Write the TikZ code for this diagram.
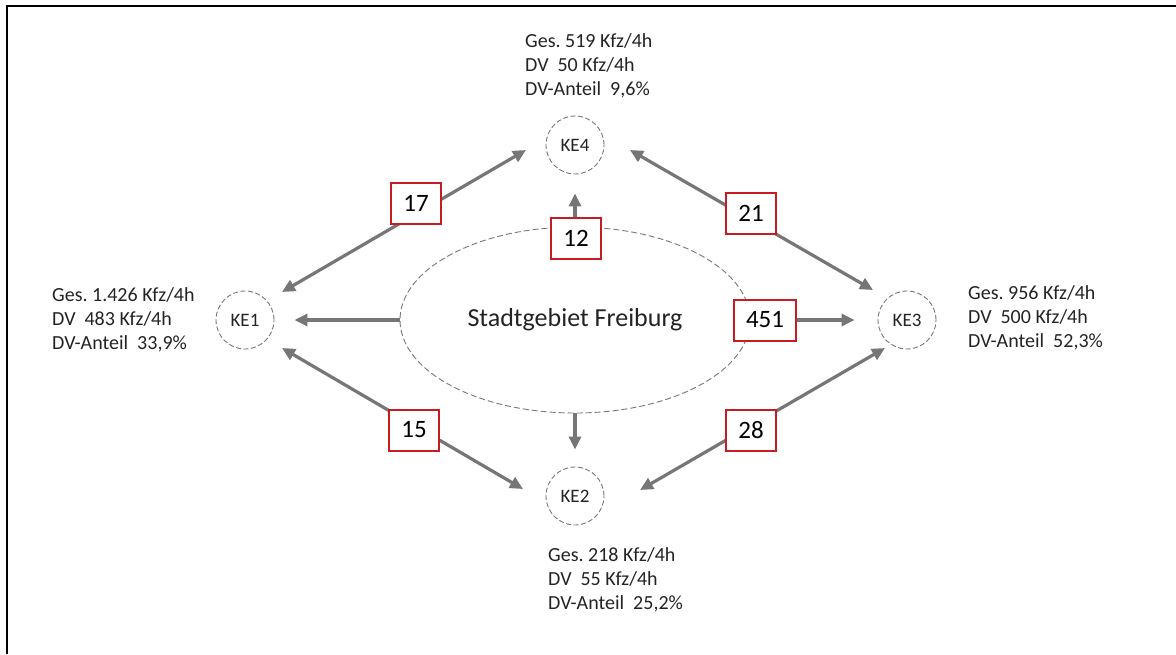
\documentclass[tikz,border=0pt]{standalone}
\usepackage{fontspec}
\setmainfont{Carlito}
\usetikzlibrary{arrows.meta,calc,shapes.geometric}
\frenchspacing

\definecolor{flowgray}{RGB}{118,118,118}
\definecolor{zonegray}{RGB}{120,120,120}
\definecolor{boxred}{RGB}{200,28,34}
\definecolor{infotext}{RGB}{35,35,35}

\tikzset{flowtip/.tip={Triangle[length=13pt,width=12pt]}}

\begin{document}
\begin{tikzpicture}[x=1pt,y=-1pt,
  flow/.style={draw=flowgray, line width=3.2pt, -flowtip, shorten >=#1},
  flow/.default=0pt,
  biflow/.style={draw=flowgray, line width=3.2pt, flowtip-flowtip},
  zone/.style={circle, draw=zonegray, line width=0.9pt, dash pattern=on 5pt off 2.5pt,
    minimum size=58pt, inner sep=0pt, text=infotext, font=\fontsize{19}{22}\selectfont},
  city/.style={ellipse, draw=zonegray, line width=0.9pt, dash pattern=on 6pt off 3pt,
    minimum width=350pt, minimum height=186pt, text=infotext, font=\fontsize{26}{30}\selectfont},
  countbox/.style={draw=boxred, line width=2pt, fill=white, minimum width=48pt,
    minimum height=41pt, inner xsep=12pt, font=\fontsize{25}{30}\selectfont},
  info/.style={align=left, anchor=west, inner sep=0pt, text=infotext,
    font=\fontsize{20}{24}\selectfont}
]
\useasboundingbox (0,0) rectangle (1176,654);

% frame
\draw[line width=2.5pt] (7,654) -- (7,6) -- (1176,6);

% city area and the four counting points
\node[city] (city) at (575,320) {Stadtgebiet Freiburg};
\node[zone] (ke1) at (245,320) {KE1};
\node[zone] (ke2) at (575,496) {KE2};
\node[zone] (ke3) at (907,320) {KE3};
\node[zone] (ke4) at (575,145) {KE4};

% traffic figures per counting point
\node[info] (t4) at (525,66) {Ges. 519 Kfz/4h\\DV\hspace{0.45em}50 Kfz/4h\\DV-Anteil\hspace{0.45em}9,6\%};
\node[info] (t1) at (52,320) {Ges. 1.426 Kfz/4h\\DV\hspace{0.45em}483 Kfz/4h\\DV-Anteil\hspace{0.45em}33,9\%};
\node[info] (t3) at (968,318) {Ges. 956 Kfz/4h\\DV\hspace{0.45em}500 Kfz/4h\\DV-Anteil\hspace{0.45em}52,3\%};
\node[info] (t2) at (548,580) {Ges. 218 Kfz/4h\\DV\hspace{0.45em}55 Kfz/4h\\DV-Anteil\hspace{0.45em}25,2\%};

% through traffic between counting points
\draw[biflow] ($(ke1)+(37,-28)$) -- ($(ke4)+(-49,5)$);
\draw[biflow] ($(ke4)+(55,5)$) -- ($(ke3)+(-34,-30)$);
\draw[biflow] ($(ke1)+(37,28)$) -- ($(ke2)+(-52,-7)$);
\draw[biflow] ($(ke2)+(65,-6)$) -- ($(ke3)+(-22,28)$);

% traffic leaving the city area
\draw[flow=20pt] (city.west) -- (ke1);
\draw[flow=17pt] (city.south) -- (ke2);

% counts
\node[countbox] (n17) at (416,203) {17};
\node[countbox] (n21) at (751,213) {21};
\node[countbox] (n15) at (414,430) {15};
\node[countbox] (n28) at (751,430) {28};
\node[countbox] (n12) at (576,238) {12};
\node[countbox] (n451) at (765,320) {451};

\draw[flow=19pt] (n12.north -| ke4) -- (ke4);
\draw[flow=23pt] (n451) -- (ke3);
\end{tikzpicture}
\end{document}
